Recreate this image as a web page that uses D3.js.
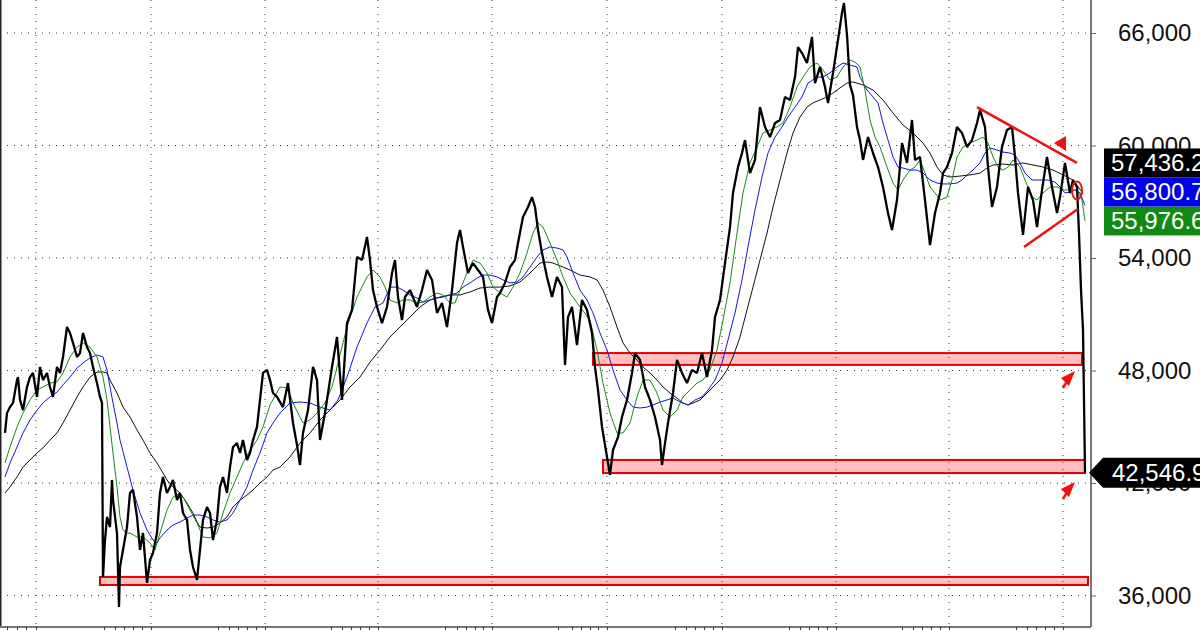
<!DOCTYPE html>
<meta charset="utf-8">
<script src="https://d3js.org/d3.v7.min.js"></script>
<style>
  body { margin: 0; background: #fff; }
  .grid line { stroke: #333; stroke-width: 1; stroke-dasharray: 1,6; }
  .yaxis text { font-family: "Liberation Sans", Arial, sans-serif; font-size: 24px; fill: #111; }
  .yaxis line { stroke: #666; }
  .tag text { font-family: "Liberation Sans", Arial, sans-serif; font-size: 24px; fill: #fff; }
  .zone { fill: #ff0000; fill-opacity: .25; stroke: #e00000; stroke-width: 2; }
</style>
<svg id="chart" width="1200" height="630"></svg>
<script>

  // price, one point per [session, value]
  var price = [[5,44670],[7,45730],[10,46050],[13,46270],[17,47490],[18,47650],[20,46430],[23,45890],[27,47120],[30,47650],[33,47870],[37,46590],[40,48190],[43,47490],[47,47870],[50,47120],[53,46590],[57,48190],[60,47870],[63,48720],[67,50320],[70,50000],[73,49470],[77,48720],[80,48930],[83,50000],[87,49250],[90,48930],[93,48190],[97,47330],[100,46590],[102,46270],[103,36990],[105,38960],[107,40190],[110,39650],[112,42160],[113,41090],[117,39330],[119,35390],[120,37520],[123,38430],[127,39650],[130,41470],[133,41630],[137,40190],[140,38430],[143,39330],[147,36670],[150,37890],[153,38270],[157,39330],[160,41470],[163,42320],[167,41470],[170,41790],[173,42160],[177,41090],[180,41470],[183,40400],[187,40030],[190,38430],[193,37520],[197,36830],[200,38430],[203,40030],[207,40720],[210,40400],[213,38960],[217,40030],[220,41790],[223,42320],[227,41470],[230,42850],[233,43920],[237,44130],[240,43600],[243,44290],[247,43230],[250,43600],[253,44290],[257,44990],[260,46430],[263,47870],[267,48030],[270,47490],[273,46800],[277,46590],[283,46050],[288,47330],[293,45200],[297,44030],[300,42960],[303,44670],[308,45890],[313,48190],[317,47490],[320,44290],[325,45730],[332,48190],[337,49790],[342,46430],[347,50530],[352,51230],[357,54050],[362,53890],[367,55120],[370,53890],[373,52290],[377,51390],[382,50530],[387,51390],[392,53200],[395,53890],[398,51920],[402,50690],[405,51920],[410,52290],[417,51390],[422,52290],[427,53360],[432,52830],[437,51070],[442,51600],[447,50320],[452,52290],[457,54800],[460,55490],[463,54590],[468,53200],[473,53730],[478,53360],[483,52990],[488,51230],[492,50530],[497,51920],[500,52130],[505,52670],[510,53520],[515,53890],[518,54800],[523,56190],[528,56720],[532,57250],[535,56720],[538,55490],[542,54270],[547,52990],[552,51920],[557,52990],[562,52450],[565,48290],[568,50850],[572,51390],[577,49360],[582,51760],[587,51230],[592,50000],[595,48190],[598,46960],[602,44990],[605,44030],[610,42430],[613,43760],[618,44450],[622,45520],[627,46430],[632,47870],[635,48930],[640,48560],[645,47120],[650,46430],[655,45520],[660,44290],[662,42960],[665,44130],[668,45200],[673,46800],[677,48560],[682,47870],[687,47330],[692,48030],[697,47870],[702,48930],[707,47650],[712,49090],[715,50850],[720,51760],[725,53730],[730,55650],[733,57470],[738,58850],[742,59600],[745,60290],[750,58530],[755,59230],[760,62050],[765,60990],[770,60450],[775,61200],[780,61360],[785,62590],[790,62430],[795,63650],[798,65250],[802,64930],[807,64400],[812,65790],[815,63330],[820,64190],[825,63120],[828,62270],[833,63870],[838,65630],[842,67070],[844,67600],[847,65890],[850,63230],[853,62690],[857,60990],[860,60290],[863,59230],[868,60450],[873,59600],[878,58850],[883,57790],[888,56400],[892,55490],[897,57090],[902,60130],[907,59070],[912,61360],[915,59230],[920,59390],[925,57090],[930,54690],[935,56400],[940,57470],[943,58530],[947,58850],[952,59600],[957,60990],[962,60670],[967,59920],[972,60290],[977,61200],[980,61890],[985,60990],[988,58850],[992,56720],[997,57790],[1002,59920],[1007,60830],[1012,60990],[1015,59390],[1018,57470],[1023,55230],[1028,57790],[1033,57090],[1037,55650],[1042,57630],[1047,59390],[1052,57790],[1057,56400],[1060,57250],[1065,59070],[1070,57470],[1073,58160],[1077,57790],[1079,55330],[1081,52290],[1083,50160],[1084,46430],[1085,42546.9]];

  // short average (green)
  var maFast = [[5,43070],[10,43920],[17,44990],[23,45730],[30,46430],[37,46960],[43,47120],[50,47330],[57,47390],[63,47870],[70,48720],[77,49250],[83,49470],[90,49250],[97,48720],[103,47650],[107,46430],[110,44990],[113,43600],[117,41790],[120,40190],[123,39490],[127,39330],[130,39330],[137,39120],[143,39120],[150,38800],[155,38430],[160,39330],[167,40560],[173,41250],[180,41470],[183,41250],[190,40560],[197,39870],[203,39120],[210,39070],[217,39330],[223,40400],[230,41470],[237,42320],[243,43070],[250,43760],[257,44290],[263,44990],[270,46160],[280,47120],[287,47070],[295,46050],[303,45200],[310,45360],[317,45730],[325,46270],[332,47120],[337,48190],[347,50320],[357,51920],[367,52990],[373,53360],[380,52990],[385,52450],[390,51760],[397,51600],[403,51760],[410,51760],[417,51600],[423,51650],[430,51920],[437,52130],[443,52030],[450,51600],[455,51600],[460,52290],[467,53200],[473,53890],[480,53730],[487,53200],[493,52450],[500,52130],[507,51920],[513,52450],[520,53200],[527,54270],[533,55330],[538,55870],[543,55650],[550,54800],[557,53890],[563,52990],[570,52130],[580,51390],[590,50690],[597,49090],[603,47330],[610,45730],[617,44670],[623,44670],[630,45200],[637,46590],[643,47490],[650,47490],[657,46800],[663,45890],[670,45520],[677,45890],[683,46590],[690,46960],[697,47330],[703,47490],[710,48030],[717,49090],[723,50690],[730,52670],[737,55330],[743,57470],[750,59070],[757,59920],[763,60670],[770,60830],[777,60990],[783,61200],[790,62050],[797,63120],[803,63650],[810,64190],[817,64400],[823,64030],[830,63490],[837,63650],[843,64190],[850,64560],[855,64450],[860,64190],[865,62960],[870,61360],[875,60450],[880,59920],[887,58850],[893,58000],[898,57630],[903,58160],[910,58690],[915,58850],[920,59230],[925,58530],[930,57790],[935,57470],[940,57090],[947,57250],[952,58160],[957,59390],[963,59920],[970,60130],[977,60290],[983,60450],[988,60130],[993,59390],[998,58850],[1003,58690],[1008,58850],[1013,59230],[1020,58850],[1025,58160],[1032,57250],[1037,57090],[1043,57470],[1050,57790],[1057,57790],[1063,57630],[1070,57630],[1077,57630],[1082,57090],[1085,55976.6]];

  // middle average (blue)
  var maMid = [[5,42320],[10,43070],[17,43920],[23,44670],[30,45360],[37,45890],[43,46270],[50,46590],[57,46850],[63,47230],[70,47650],[77,48130],[83,48400],[90,48670],[97,48830],[103,48720],[107,48030],[110,47120],[113,46270],[117,45200],[120,44290],[127,42850],[133,41630],[140,40400],[147,39490],[153,38960],[157,38800],[160,39070],[167,39490],[173,39760],[180,39920],[187,40130],[193,40290],[200,40290],[207,40190],[213,40030],[220,39920],[227,40030],[233,40400],[240,41090],[247,41790],[253,42690],[260,43600],[267,44670],[273,45200],[280,45730],[290,46270],[300,46320],[310,46270],[320,46050],[330,45890],[338,46430],[347,47650],[357,49250],[367,50530],[375,51390],[383,51600],[390,52450],[397,52450],[403,52290],[410,52030],[417,51870],[423,51650],[430,51760],[437,51870],[443,51920],[450,52030],[457,52130],[463,52450],[470,52670],[477,52930],[483,53090],[490,53090],[497,52990],[503,52830],[510,52670],[517,52720],[523,52990],[530,53520],[537,54050],[543,54430],[550,54590],[557,54530],[563,54430],[567,54050],[573,53200],[580,52290],[587,51760],[593,51070],[600,50000],[607,49090],[613,48030],[620,46960],[627,46430],[633,46050],[640,46000],[647,46050],[653,46160],[660,46320],[667,46430],[673,46530],[680,46320],[688,46160],[695,46430],[702,46590],[708,46960],[715,47490],[722,48400],[728,49630],[735,51070],[742,52830],[748,54590],[755,56560],[762,58320],[768,59600],[775,60450],[782,60990],[788,61520],[795,62050],[802,62590],[808,63330],[817,63650],[823,63650],[830,63870],[837,64190],[843,64400],[850,64290],[857,64190],[860,63650],[867,62960],[873,62590],[878,62270],[883,61200],[888,60290],[893,59390],[898,58850],[903,58800],[910,58690],[917,58690],[923,58530],[930,58160],[937,58000],[943,57950],[950,57950],[957,58000],[962,58160],[967,58430],[973,58690],[980,59070],[985,59600],[990,59870],[997,59760],[1003,59650],[1010,59600],[1015,59490],[1020,59070],[1025,58530],[1032,58160],[1040,58160],[1048,58160],[1055,58050],[1060,57790],[1065,57470],[1070,57520],[1075,57630],[1080,57470],[1085,56800.7]];

  // long average (black)
  var maSlow = [[5,41470],[10,41790],[17,42320],[23,42850],[30,43230],[37,43600],[43,43870],[50,44290],[57,44670],[63,45200],[70,45890],[77,46590],[83,47120],[90,47650],[97,47920],[103,47920],[107,47870],[110,47490],[117,46800],[123,46050],[130,45520],[137,44830],[143,44290],[150,43600],[157,43070],[163,42530],[167,42160],[173,41790],[180,41470],[187,40930],[193,40400],[197,39920],[200,39650],[207,39600],[213,39650],[220,39870],[227,40190],[233,40720],[240,41090],[247,41360],[253,41630],[260,42000],[267,42320],[273,42690],[280,42850],[290,43390],[300,44130],[310,44670],[320,45360],[330,45890],[340,46430],[350,47120],[360,47650],[370,48450],[380,49090],[390,49790],[400,50320],[410,50850],[420,51390],[430,51760],[440,51920],[450,52030],[460,52030],[470,52190],[480,52400],[490,52450],[500,52450],[510,52510],[520,52720],[530,53200],[540,53730],[547,53790],[553,53730],[563,53520],[570,53360],[580,53090],[590,52990],[597,52830],[603,52290],[610,51390],[617,50320],[623,49470],[630,48930],[637,48560],[643,48190],[650,47870],[657,47490],[663,47120],[670,46800],[677,46530],[683,46270],[688,46160],[693,46270],[700,46430],[707,46800],[713,47120],[720,47490],[727,48030],[733,48720],[740,49790],[747,51230],[753,52450],[760,53890],[767,55330],[773,56720],[780,58160],[787,59600],[793,60670],[800,61520],[807,62050],[813,62270],[820,62430],[827,62590],[833,62800],[840,63070],[847,63330],[853,63390],[863,63230],[873,62960],[883,62430],[893,61730],[903,61090],[913,60670],[923,60130],[930,59600],[937,58850],[943,58430],[950,58320],[960,58370],[970,58430],[980,58530],[987,58800],[993,58960],[1003,59010],[1013,58960],[1023,59070],[1033,58960],[1043,58850],[1053,58690],[1063,58430],[1073,58160],[1083,57436.2]];

  var lastValues = [
    { value: 57436.2, color: "#000000" },
    { value: 56800.7, color: "#0000ee" },
    { value: 55976.6, color: "#108a10" }
  ];
  var lastClose = 42546.9;

  var yTicks = [36000, 42000, 48000, 54000, 60000, 66000];
  var yearTicks = [36, 151, 265, 378, 492, 607, 722, 836, 949, 1063];
  var monthTicks = [7, 17, 26, 36, 104, 115, 124, 133, 142, 151, 218, 229, 238, 247, 256, 265,
    331, 342, 351, 360, 369, 378, 445, 457, 466, 475, 483, 492, 558, 572, 581, 590, 598, 607,
    675, 686, 695, 704, 713, 722, 789, 800, 809, 818, 827, 836, 902, 913, 922, 931, 940, 949,
    1016, 1027, 1036, 1045, 1054, 1063];

  // support zones [from session, to session, low, high]
  var zones = [[593, 1082, 48300, 48930], [603, 1085, 42530, 43230], [100, 1088, 36560, 36990]];
  // triangle trendlines [s1, v1, s2, v2]
  var trendlines = [[977, 62050, 1077, 59070], [1024, 54590, 1078, 56610]];

  var svg = d3.select("#chart"),
    plotW = 1091,
    plotH = 627;

  var x = d3.scaleLinear().domain([0, 1091]).range([0, plotW]);
  var y = d3.scaleLinear().domain([36000, 66000]).range([595.5, 33]);

  svg.append("rect").attr("width", 1200).attr("height", 630).attr("fill", "#fff");

  // grid
  var grid = svg.append("g").attr("class", "grid");
  grid.selectAll(".gx").data(yearTicks).enter().append("line")
    .attr("x1", d => x(d)).attr("x2", d => x(d))
    .attr("y1", 0).attr("y2", plotH);
  grid.selectAll(".gy").data(yTicks).enter().append("line")
    .attr("x1", 0).attr("x2", plotW)
    .attr("y1", d => y(d)).attr("y2", d => y(d));

  // zones
  svg.append("g").selectAll("rect").data(zones).enter().append("rect")
    .attr("class", "zone")
    .attr("x", d => x(d[0])).attr("width", d => x(d[1]) - x(d[0]))
    .attr("y", d => y(d[3])).attr("height", d => y(d[2]) - y(d[3]));

  var line = d3.line().x(d => x(d[0])).y(d => y(d[1]));

  svg.append("path").datum(maSlow).attr("d", line)
    .attr("fill", "none").attr("stroke", "#111").attr("stroke-width", 1);
  svg.append("path").datum(maMid).attr("d", line)
    .attr("fill", "none").attr("stroke", "#1515d8").attr("stroke-width", 1);
  svg.append("path").datum(maFast).attr("d", line)
    .attr("fill", "none").attr("stroke", "#1a8a1a").attr("stroke-width", 1);

  svg.append("path").datum(price).attr("d", line)
    .attr("fill", "none").attr("stroke", "#000").attr("stroke-width", 2.3)
    .attr("stroke-linejoin", "bevel");

  // annotations
  var red = "#ee1111";
  svg.append("g").selectAll("line").data(trendlines).enter().append("line")
    .attr("x1", d => x(d[0])).attr("y1", d => y(d[1]))
    .attr("x2", d => x(d[2])).attr("y2", d => y(d[3]))
    .attr("stroke", red).attr("stroke-width", 2.5);

  svg.append("ellipse")
    .attr("cx", x(1077)).attr("cy", y(57600)).attr("rx", 5).attr("ry", 9)
    .attr("fill", "none").attr("stroke", red).attr("stroke-width", 2);

  // arrow above the triangle
  svg.append("path")
    .attr("d", "M" + x(1054) + "," + (y(59760) - 7) + " l12,-7 l0,15 z")
    .attr("fill", red);
  // arrows under the zones
  [47970, 42050].forEach(function (v) {
    var tx = x(1075), ty = y(v);
    svg.append("path")
      .attr("d", "M" + tx + "," + ty + " l-14,7 l8,8 z")
      .attr("fill", red);
    svg.append("line")
      .attr("x1", tx - 8).attr("y1", ty + 10).attr("x2", tx - 12).attr("y2", ty + 17)
      .attr("stroke", red).attr("stroke-width", 2.5);
  });

  // frame
  svg.append("line").attr("x1", 0.5).attr("x2", 0.5).attr("y1", 0).attr("y2", plotH)
    .attr("stroke", "#222").attr("stroke-width", 2);
  svg.append("line").attr("x1", 0).attr("x2", plotW).attr("y1", plotH).attr("y2", plotH)
    .attr("stroke", "#777").attr("stroke-width", 2);
  svg.append("line").attr("x1", plotW).attr("x2", plotW).attr("y1", 0).attr("y2", plotH)
    .attr("stroke", "#777").attr("stroke-width", 2);

  // bottom ticks
  var xAxis = svg.append("g").attr("transform", "translate(0," + plotH + ")")
    .call(d3.axisBottom(x).tickValues(monthTicks).tickSize(6).tickFormat(""));
  xAxis.select(".domain").remove();
  xAxis.selectAll("line").attr("stroke", "#333");

  // right axis
  var yAxis = svg.append("g").attr("class", "yaxis")
    .attr("transform", "translate(" + plotW + ",0)")
    .call(d3.axisRight(y).tickValues(yTicks).tickSize(5).tickPadding(22).tickFormat(d3.format(",")));
  yAxis.select(".domain").remove();

  // last value tags, stacked upward so they do not overlap
  var tagH = 29, fmt = d3.format(",.1f");
  var sorted = lastValues.slice().sort((a, b) => a.value - b.value);
  var prevTop = Infinity;
  sorted.forEach(function (d) {
    var top = Math.min(y(d.value) - tagH / 2, prevTop - tagH);
    d.top = top;
    prevTop = top;
  });
  var tags = svg.append("g").attr("class", "tag");
  tags.selectAll("rect").data(sorted).enter().append("rect")
    .attr("x", 1104).attr("width", 100).attr("y", d => d.top).attr("height", tagH)
    .attr("fill", d => d.color);
  tags.selectAll("text").data(sorted).enter().append("text")
    .attr("x", 1111).attr("y", d => d.top + 23).text(d => fmt(d.value));

  var ly = y(lastClose);
  tags.append("path")
    .attr("d", "M1089," + ly + " L1103," + (ly - 15) + " L1200," + (ly - 15) + " L1200," + (ly + 15) + " L1103," + (ly + 15) + " Z")
    .attr("fill", "#000");
  tags.append("text").attr("x", 1112).attr("y", ly + 8).text(fmt(lastClose));

</script>
